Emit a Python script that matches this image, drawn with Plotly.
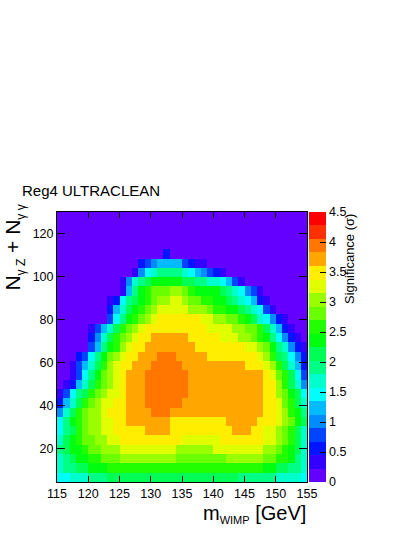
import plotly.graph_objects as go

# binning of the 2D histogram
mass_lo, mass_hi, n_mass_bins = 115, 155, 40     # m_WIMP [GeV]
count_lo, count_hi, n_count_bins = 4.5, 130, 29  # N_gammaZ + N_gammagamma

# significance per bin, rows from the lowest N bin upwards, columns 115 -> 155 GeV
significance = [
    [1.45, 1.45, 1.7, 1.7, 1.7, 1.9, 1.9, 1.9, 2.15, 2.15, 2.15, 2.15, 2.15, 2.15, 2.15, 2.15, 2.15, 2.15, 2.15, 2.15,
     2.15, 2.15, 2.15, 2.15, 2.15, 2.15, 2.15, 2.15, 2.15, 1.9, 1.9, 1.9, 1.9, 1.9, 1.9, 1.7, 1.7, 1.7, 1.7, 1.45],
    [1.7, 1.9, 1.9, 2.15, 2.15, 2.35, 2.35, 2.35, 2.6, 2.6, 2.6, 2.6, 2.6, 2.6, 2.6, 2.6, 2.6, 2.6, 2.6, 2.6,
     2.6, 2.6, 2.6, 2.6, 2.6, 2.6, 2.6, 2.6, 2.6, 2.6, 2.6, 2.6, 2.6, 2.35, 2.35, 2.15, 2.15, 1.9, 1.9, 1.7],
    [1.7, 1.9, 2.15, 2.35, 2.35, 2.6, 2.6, 2.8, 2.8, 2.8, 3.05, 3.05, 3.05, 3.05, 3.05, 3.05, 3.05, 3.05, 3.05, 2.8,
     2.8, 2.8, 2.8, 2.8, 2.8, 2.8, 2.8, 3.05, 3.05, 3.05, 3.05, 3.05, 3.05, 2.8, 2.8, 2.6, 2.6, 2.35, 1.9, 1.7],
    [1.9, 2.15, 2.35, 2.35, 2.6, 2.8, 2.8, 3.05, 3.05, 3.05, 3.25, 3.25, 3.25, 3.25, 3.25, 3.25, 3.25, 3.25, 3.25, 3.05,
     3.05, 3.05, 3.05, 3.05, 3.05, 3.25, 3.25, 3.25, 3.25, 3.25, 3.25, 3.25, 3.25, 3.05, 3.05, 2.8, 2.6, 2.35, 2.15, 1.7],
    [1.7, 2.15, 2.35, 2.6, 2.8, 2.8, 3.05, 3.05, 3.25, 3.25, 3.5, 3.5, 3.5, 3.5, 3.5, 3.5, 3.5, 3.5, 3.5, 3.5,
     3.25, 3.25, 3.25, 3.25, 3.25, 3.25, 3.5, 3.5, 3.5, 3.5, 3.5, 3.5, 3.5, 3.25, 3.25, 3.05, 2.8, 2.6, 2.15, 1.7],
    [1.45, 1.9, 2.15, 2.6, 2.8, 3.05, 3.05, 3.25, 3.25, 3.5, 3.5, 3.5, 3.5, 3.5, 3.7, 3.7, 3.7, 3.7, 3.5, 3.5,
     3.5, 3.5, 3.5, 3.5, 3.5, 3.5, 3.5, 3.5, 3.7, 3.7, 3.7, 3.5, 3.5, 3.25, 3.25, 3.05, 2.8, 2.6, 2.15, 1.7],
    [1.45, 1.9, 2.35, 2.6, 2.8, 3.05, 3.05, 3.25, 3.25, 3.5, 3.5, 3.7, 3.7, 3.7, 3.7, 3.7, 3.7, 3.7, 3.5, 3.5,
     3.5, 3.5, 3.5, 3.5, 3.5, 3.5, 3.5, 3.7, 3.7, 3.7, 3.7, 3.7, 3.5, 3.5, 3.5, 3.25, 3.05, 2.8, 2.35, 2.15],
    [1.0, 1.7, 2.15, 2.6, 2.8, 3.05, 3.05, 3.25, 3.5, 3.5, 3.5, 3.7, 3.7, 3.7, 3.7, 3.95, 3.95, 3.95, 3.7, 3.7,
     3.7, 3.7, 3.7, 3.7, 3.7, 3.7, 3.7, 3.7, 3.7, 3.7, 3.7, 3.7, 3.7, 3.5, 3.5, 3.25, 3.05, 2.6, 2.35, 1.9],
    [0.55, 1.25, 1.7, 2.15, 2.6, 2.8, 3.05, 3.25, 3.25, 3.5, 3.5, 3.7, 3.7, 3.7, 3.95, 3.95, 3.95, 3.95, 3.95, 3.95,
     3.7, 3.7, 3.7, 3.7, 3.7, 3.7, 3.7, 3.7, 3.7, 3.7, 3.7, 3.7, 3.7, 3.5, 3.5, 3.25, 2.8, 2.6, 2.15, 1.7],
    [0.3, 0.8, 1.45, 1.9, 2.15, 2.6, 2.8, 3.05, 3.25, 3.25, 3.5, 3.7, 3.7, 3.7, 3.95, 3.95, 3.95, 3.95, 3.95, 3.95,
     3.95, 3.7, 3.7, 3.7, 3.7, 3.7, 3.7, 3.7, 3.7, 3.7, 3.7, 3.7, 3.7, 3.5, 3.5, 3.05, 2.8, 2.35, 2.15, 1.45],
    [0.1, 0.3, 0.55, 1.25, 1.7, 2.15, 2.6, 2.8, 3.05, 3.25, 3.5, 3.7, 3.7, 3.7, 3.95, 3.95, 3.95, 3.95, 3.95, 3.95,
     3.95, 3.7, 3.7, 3.7, 3.7, 3.7, 3.7, 3.7, 3.7, 3.7, 3.7, 3.7, 3.7, 3.5, 3.5, 3.05, 2.6, 2.15, 1.7, 1.0],
    [0.1, 0.1, 0.3, 0.8, 1.45, 1.9, 2.35, 2.8, 3.05, 3.25, 3.5, 3.7, 3.7, 3.7, 3.95, 3.95, 3.95, 3.95, 3.95, 3.95,
     3.95, 3.7, 3.7, 3.7, 3.7, 3.7, 3.7, 3.7, 3.7, 3.7, 3.7, 3.7, 3.7, 3.5, 3.25, 2.8, 2.6, 2.15, 1.45, 0.8],
    [0.1, 0.1, 0.3, 0.8, 1.25, 1.7, 2.15, 2.6, 3.05, 3.25, 3.5, 3.5, 3.7, 3.7, 3.7, 3.95, 3.95, 3.95, 3.95, 3.95,
     3.7, 3.7, 3.7, 3.7, 3.7, 3.7, 3.7, 3.7, 3.7, 3.7, 3.5, 3.5, 3.5, 3.25, 3.05, 2.6, 2.15, 1.7, 1.25, 0.55],
    [0.1, 0.1, 0.1, 0.55, 0.8, 1.45, 1.9, 2.35, 2.8, 3.05, 3.25, 3.5, 3.5, 3.7, 3.7, 3.7, 3.95, 3.95, 3.95, 3.7,
     3.7, 3.7, 3.7, 3.7, 3.5, 3.5, 3.5, 3.5, 3.5, 3.5, 3.5, 3.5, 3.25, 3.05, 2.6, 2.15, 1.9, 1.45, 1.0, 0.55],
    [0.1, 0.1, 0.1, 0.1, 0.1, 0.8, 1.25, 1.9, 2.35, 2.6, 3.05, 3.25, 3.5, 3.5, 3.7, 3.7, 3.7, 3.7, 3.7, 3.7,
     3.7, 3.7, 3.5, 3.5, 3.5, 3.5, 3.5, 3.5, 3.5, 3.5, 3.25, 3.25, 3.05, 2.8, 2.35, 1.9, 1.7, 1.0, 0.55, 0.3],
    [0.1, 0.1, 0.1, 0.1, 0.1, 0.55, 1.0, 1.7, 2.15, 2.6, 2.8, 3.05, 3.25, 3.5, 3.5, 3.7, 3.7, 3.7, 3.7, 3.7,
     3.7, 3.5, 3.5, 3.5, 3.5, 3.5, 3.25, 3.25, 3.25, 3.05, 3.05, 2.8, 2.6, 2.35, 1.9, 1.45, 1.0, 0.55, 0.3, 0.1],
    [0.1, 0.1, 0.1, 0.1, 0.1, 0.3, 0.8, 1.25, 1.7, 2.15, 2.6, 2.8, 3.05, 3.25, 3.5, 3.5, 3.5, 3.5, 3.5, 3.5,
     3.5, 3.5, 3.5, 3.5, 3.25, 3.25, 3.25, 3.25, 3.05, 3.05, 2.8, 2.8, 2.6, 2.15, 1.7, 1.25, 0.55, 0.3, 0.1, 0.1],
    [0.1, 0.1, 0.1, 0.1, 0.1, 0.1, 0.1, 0.1, 0.8, 1.45, 1.9, 2.35, 2.6, 2.8, 3.05, 3.25, 3.5, 3.5, 3.5, 3.5,
     3.5, 3.5, 3.5, 3.25, 3.25, 3.05, 3.05, 2.8, 2.8, 2.6, 2.35, 2.15, 1.7, 1.45, 1.0, 0.55, 0.3, 0.1, 0.1, 0.1],
    [0.1, 0.1, 0.1, 0.1, 0.1, 0.1, 0.1, 0.1, 0.55, 1.25, 1.7, 2.15, 2.35, 2.6, 2.8, 3.05, 3.25, 3.25, 3.25, 3.25,
     3.25, 3.05, 3.05, 3.05, 2.8, 2.6, 2.6, 2.35, 2.35, 2.15, 1.9, 1.7, 1.45, 0.8, 0.3, 0.1, 0.1, 0.1, 0.1, 0.1],
    [0.1, 0.1, 0.1, 0.1, 0.1, 0.1, 0.1, 0.1, 0.3, 0.55, 1.45, 1.9, 2.15, 2.35, 2.6, 2.8, 3.05, 3.05, 3.25, 3.25,
     3.05, 2.8, 2.8, 2.6, 2.6, 2.35, 2.35, 2.15, 1.9, 1.7, 1.45, 1.25, 0.55, 0.3, 0.1, 0.1, 0.1, 0.1, 0.1, 0.1],
    [0.1, 0.1, 0.1, 0.1, 0.1, 0.1, 0.1, 0.1, 0.1, 0.1, 0.3, 1.25, 1.9, 2.35, 2.6, 2.8, 2.8, 2.8, 3.05, 3.05,
     2.8, 2.6, 2.35, 2.35, 2.35, 2.35, 2.15, 1.9, 1.7, 1.45, 1.0, 0.8, 0.3, 0.1, 0.1, 0.1, 0.1, 0.1, 0.1, 0.1],
    [0.1, 0.1, 0.1, 0.1, 0.1, 0.1, 0.1, 0.1, 0.1, 0.1, 0.3, 1.0, 1.7, 1.9, 2.15, 2.35, 2.35, 2.35, 2.35, 2.35,
     2.15, 2.15, 1.9, 1.9, 1.7, 1.7, 1.45, 1.25, 0.8, 0.3, 0.1, 0.1, 0.1, 0.1, 0.1, 0.1, 0.1, 0.1, 0.1, 0.1],
    [0.1, 0.1, 0.1, 0.1, 0.1, 0.1, 0.1, 0.1, 0.1, 0.1, 0.1, 0.1, 0.3, 1.0, 1.45, 1.7, 1.9, 1.9, 1.9, 1.9,
     1.7, 1.45, 1.25, 1.0, 0.8, 0.55, 0.3, 0.1, 0.1, 0.1, 0.1, 0.1, 0.1, 0.1, 0.1, 0.1, 0.1, 0.1, 0.1, 0.1],
    [0.1, 0.1, 0.1, 0.1, 0.1, 0.1, 0.1, 0.1, 0.1, 0.1, 0.1, 0.1, 0.1, 0.55, 0.8, 1.0, 1.25, 1.25, 1.25, 1.25,
     0.8, 0.55, 0.3, 0.3, 0.1, 0.1, 0.1, 0.1, 0.1, 0.1, 0.1, 0.1, 0.1, 0.1, 0.1, 0.1, 0.1, 0.1, 0.1, 0.1],
    [0.1, 0.1, 0.1, 0.1, 0.1, 0.1, 0.1, 0.1, 0.1, 0.1, 0.1, 0.1, 0.1, 0.1, 0.1, 0.1, 0.1, 0.55, 0.1, 0.1,
     0.1, 0.1, 0.1, 0.1, 0.1, 0.1, 0.1, 0.1, 0.1, 0.1, 0.1, 0.1, 0.1, 0.1, 0.1, 0.1, 0.1, 0.1, 0.1, 0.1],
    [0.1, 0.1, 0.1, 0.1, 0.1, 0.1, 0.1, 0.1, 0.1, 0.1, 0.1, 0.1, 0.1, 0.1, 0.1, 0.1, 0.1, 0.1, 0.1, 0.1,
     0.1, 0.1, 0.1, 0.1, 0.1, 0.1, 0.1, 0.1, 0.1, 0.1, 0.1, 0.1, 0.1, 0.1, 0.1, 0.1, 0.1, 0.1, 0.1, 0.1],
    [0.1, 0.1, 0.1, 0.1, 0.1, 0.1, 0.1, 0.1, 0.1, 0.1, 0.1, 0.1, 0.1, 0.1, 0.1, 0.1, 0.1, 0.1, 0.1, 0.1,
     0.1, 0.1, 0.1, 0.1, 0.1, 0.1, 0.1, 0.1, 0.1, 0.1, 0.1, 0.1, 0.1, 0.1, 0.1, 0.1, 0.1, 0.1, 0.1, 0.1],
    [0.1, 0.1, 0.1, 0.1, 0.1, 0.1, 0.1, 0.1, 0.1, 0.1, 0.1, 0.1, 0.1, 0.1, 0.1, 0.1, 0.1, 0.1, 0.1, 0.1,
     0.1, 0.1, 0.1, 0.1, 0.1, 0.1, 0.1, 0.1, 0.1, 0.1, 0.1, 0.1, 0.1, 0.1, 0.1, 0.1, 0.1, 0.1, 0.1, 0.1],
    [0.1, 0.1, 0.1, 0.1, 0.1, 0.1, 0.1, 0.1, 0.1, 0.1, 0.1, 0.1, 0.1, 0.1, 0.1, 0.1, 0.1, 0.1, 0.1, 0.1,
     0.1, 0.1, 0.1, 0.1, 0.1, 0.1, 0.1, 0.1, 0.1, 0.1, 0.1, 0.1, 0.1, 0.1, 0.1, 0.1, 0.1, 0.1, 0.1, 0.1],
]

# ROOT "pretty" palette sampled at 20 contour levels between 0 and 4.5
palette = ["#6300ff", "#3300ff", "#0014ff", "#0044ff", "#008bff", "#00bbff", "#00fffc",
           "#00ffcc", "#00ff85", "#00ff55", "#00ff0e", "#22ff00", "#69ff00", "#99ff00",
           "#e0ff00", "#ffee00", "#ffa700", "#ff7700", "#ff3000", "#ff0000"]
z_min, z_max = 0, 4.5

x_ticks = [115, 120, 125, 130, 135, 140, 145, 150, 155]
y_ticks = [20, 40, 60, 80, 100, 120]
z_ticks = [0, 0.5, 1, 1.5, 2, 2.5, 3, 3.5, 4, 4.5]

font = "Liberation Sans, Arial, sans-serif"

# stepped colorscale, one flat band per contour level
n_levels = len(palette)
colorscale = []
for i, c in enumerate(palette):
    colorscale.append([i / n_levels, c])
    colorscale.append([(i + 1) / n_levels, c])

dy = (count_hi - count_lo) / n_count_bins
dx = (mass_hi - mass_lo) / n_mass_bins

fig = go.Figure()
fig.add_trace(go.Heatmap(
    z=significance,
    x0=mass_lo + dx / 2, dx=dx,
    y0=count_lo + dy / 2, dy=dy,
    zmin=z_min, zmax=z_max,
    colorscale=colorscale,
    zsmooth=False,
    hovertemplate="m=%{x}<br>N=%{y}<br>sig=%{z}<extra></extra>",
    colorbar=dict(
        x=1.009, xanchor="left", y=0.5, yanchor="middle",
        len=1, lenmode="fraction", ypad=0, xpad=0,
        thickness=17, thicknessmode="pixels",
        outlinewidth=0,
        tickvals=z_ticks, ticks="inside", ticklen=6, tickcolor="black",
        tickfont=dict(family=font, size=12.5, color="black"),
    ),
))

axis_style = dict(
    ticks="inside", tickcolor="black", showline=True, linecolor="black", linewidth=1,
    mirror="ticks", showgrid=False, zeroline=False,
    tickfont=dict(family=font, size=12.5, color="black"),
)
fig.update_xaxes(range=[mass_lo, mass_hi], tickvals=x_ticks, ticklen=6, **axis_style)
fig.update_yaxes(range=[count_lo, count_hi], tickvals=y_ticks, ticklen=8, **axis_style)

fig.update_layout(
    width=415, height=537,
    margin=dict(l=57, r=108, t=212, b=55),
    paper_bgcolor="white", plot_bgcolor="white",
    font=dict(family=font, color="black"),
    annotations=[
        dict(text="Reg4 ULTRACLEAN", xref="paper", yref="paper", x=-0.148, y=1.0796,
             xanchor="left", yanchor="middle", showarrow=False, font=dict(size=15)),
        dict(text="m<sub><span style='font-size:11px'>WIMP</span></sub> [GeV]",
             xref="paper", yref="paper", x=1.003, y=-0.12,
             xanchor="right", yanchor="middle", showarrow=False, font=dict(size=20)),
        dict(text="N<sub><span style='font-size:12px'>γ Z</span></sub> + N<sub><span style='font-size:12px'>γ γ</span></sub>",
             xref="paper", yref="paper", x=-0.17, y=1.033,
             xanchor="center", yanchor="top", textangle=-90, showarrow=False, font=dict(size=21)),
        dict(text="Significance (σ)", xref="paper", yref="paper", x=1.168, y=1.0,
             xanchor="center", yanchor="top", textangle=-90, showarrow=False, font=dict(size=13)),
    ],
)

# drop the default 8px page margin so the figure fills the window like the original canvas
fig.write_html("out.html", config={"displayModeBar": False},
               post_script="document.body.style.margin = '0';")
